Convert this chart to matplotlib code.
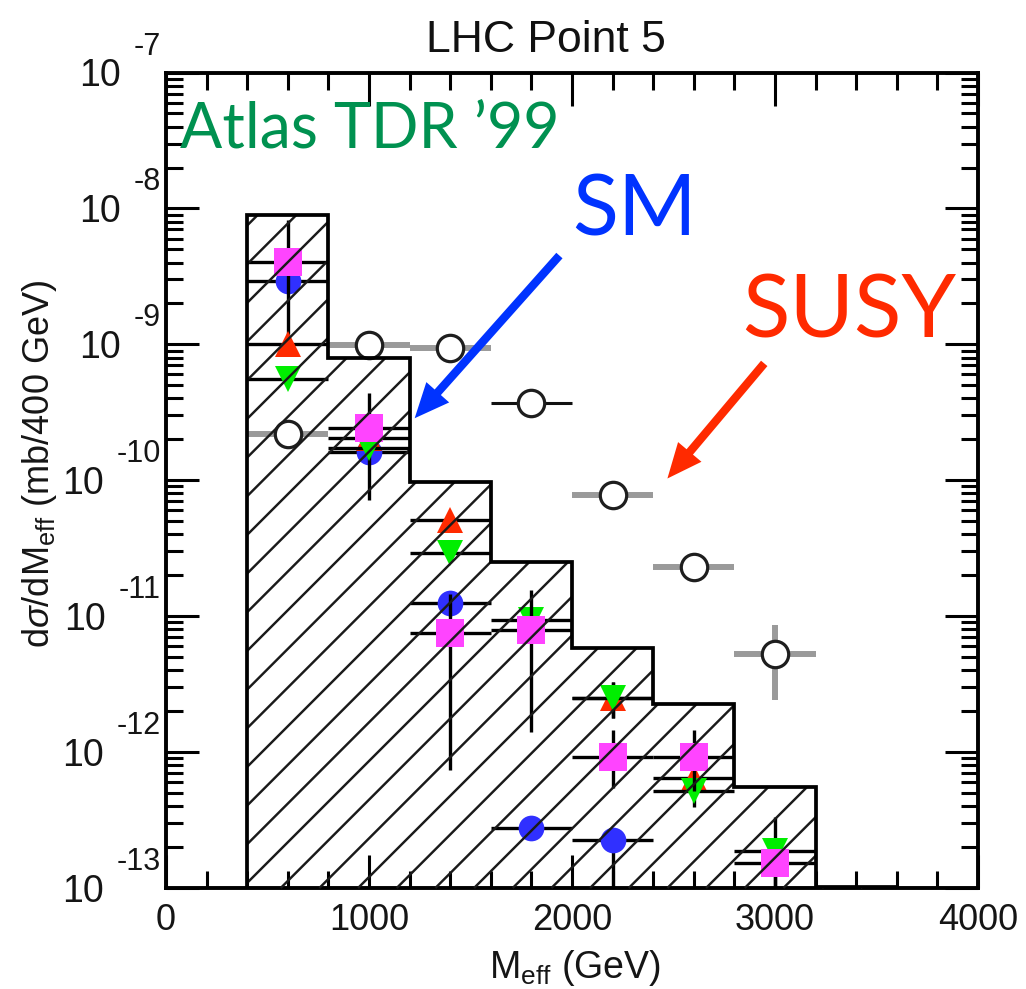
import numpy as np
import matplotlib
matplotlib.use('Agg')
import matplotlib.pyplot as plt
from matplotlib.collections import LineCollection
from matplotlib.patches import Polygon
from matplotlib.ticker import FixedLocator, LogLocator, NullFormatter, MultipleLocator

plt.rcParams['font.family'] = ['Liberation Sans', 'DejaVu Sans']
plt.rcParams['mathtext.fontset'] = 'custom'
plt.rcParams['mathtext.rm'] = 'Liberation Sans'
plt.rcParams['mathtext.it'] = 'Liberation Sans:italic'

# ---------------- data ----------------
bin_edges = [400, 800, 1200, 1600, 2000, 2400, 2800, 3200, 3600]
sm_hist = [8.9e-9, 7.9e-10, 9.7e-11, 2.5e-11, 5.8e-12, 2.25e-12, 5.5e-13, 1.02e-13]

x_pts = [600, 1000, 1400, 1800, 2200, 2600, 3000]
x_half = 200

# SUSY (open circles)
susy_y  = [2.18e-10, 9.84e-10, 9.42e-10, 3.68e-10, 7.76e-11, 2.31e-11, 5.3e-12]
susy_lo = [2.18e-10, 9.84e-10, 9.42e-10, 3.68e-10, 7.76e-11, 2.31e-11, 2.4e-12]
susy_hi = [2.18e-10, 9.84e-10, 9.42e-10, 3.68e-10, 7.76e-11, 2.31e-11, 8.6e-12]
susy_bar_colors = ['#9a9a9a', '#9a9a9a', '#9a9a9a', '#111111', '#9a9a9a', '#9a9a9a', '#9a9a9a']

nan = np.nan
# blue filled circles
blue_y  = [2.9e-9, 1.61e-10, 1.25e-11, 2.76e-13, 2.25e-13, nan, nan]
blue_lo = [2.6e-9, 1.4e-10, 1.0e-11, 2.5e-13, 5e-14, nan, nan]
blue_hi = [3.2e-9, 1.8e-10, 1.45e-11, 3.0e-13, 2.25e-13, nan, nan]
# red up-triangles
red_y  = [1.0e-9, 2.04e-10, 5.08e-11, nan, 2.49e-12, 6.44e-13, nan]
red_lo = [1.0e-9, 1.9e-10, 4.6e-11, nan, 1.78e-12, 6.0e-13, nan]
red_hi = [8.17e-9, 2.2e-10, 5.5e-11, nan, 3.27e-12, 7.0e-13, nan]
# green down-triangles
green_y  = [5.53e-10, 1.72e-10, 2.9e-11, 9.3e-12, 2.49e-12, 5.17e-13, 1.87e-13]
green_lo = [5.0e-10, 7.13e-11, 2.6e-11, 8.5e-12, 1.78e-12, 3.94e-13, 5e-14]
green_hi = [6.0e-10, 1.9e-10, 3.2e-11, 1.0e-11, 3.27e-12, 5.6e-13, 3.33e-13]
# magenta squares
mag_y  = [4.03e-9, 2.41e-10, 7.5e-12, 7.9e-12, 9.18e-13, 9.18e-13, 1.53e-13]
mag_lo = [3.5e-9, 2.0e-10, 7.4e-13, 1.4e-12, 5.43e-13, 5.2e-13, 5e-14]
mag_hi = [4.6e-9, 4.37e-10, 1.45e-11, 1.55e-11, 1.45e-12, 1.45e-12, 1.8e-13]

x_ticks = [0, 1000, 2000, 3000, 4000]
y_decades = [-13, -12, -11, -10, -9, -8, -7]

# ---------------- figure ----------------
FW, FH = 1026, 989
fig = plt.figure(figsize=(FW / 100, FH / 100), dpi=100)
L, R, T, B = 166, 978, 72.5, 888
ax = fig.add_axes([L / FW, 1 - B / FH, (R - L) / FW, (B - T) / FH])
ax.set_yscale('log')
ax.set_xlim(0, 4000)
ymin, ymax = 1e-13, 1e-7
ax.set_ylim(ymin, ymax)

for s in ax.spines.values():
    s.set_linewidth(2.8)

ax.xaxis.set_major_locator(FixedLocator(x_ticks))
ax.xaxis.set_minor_locator(MultipleLocator(200))
ax.set_xticklabels([str(v) for v in x_ticks])
ax.yaxis.set_major_locator(FixedLocator([10.0 ** d for d in y_decades]))
ax.yaxis.set_minor_locator(LogLocator(base=10, subs=np.arange(2, 10)))
ax.yaxis.set_major_formatter(NullFormatter())
ax.yaxis.set_minor_formatter(NullFormatter())
ax.tick_params(which='both', direction='in', top=True, right=True, width=2.2)
ax.tick_params(which='major', length=24)
ax.tick_params(which='minor', length=12.5)
ax.tick_params(axis='x', which='major', labelsize=26, pad=11, labelcolor='#151515')


def yerr(y, lo, hi):
    y = np.array(y, float)
    return y, np.vstack([y - np.array(lo, float), np.array(hi, float) - y])


# SUSY circles
for i in range(len(x_pts)):
    lw = 2.2 if susy_bar_colors[i] == '#111111' else 4.3
    ax.errorbar([x_pts[i]], [susy_y[i]], xerr=x_half,
                yerr=[[susy_y[i] - susy_lo[i]], [susy_hi[i] - susy_y[i]]],
                fmt='o', ms=19, mfc='white', mec='#1e1e1e', mew=2.3,
                ecolor=susy_bar_colors[i], elinewidth=lw, capsize=0, zorder=2)

series = [
    (blue_y, blue_lo, blue_hi, 'o', '#3030ff', 18.5, 3),
    (red_y, red_lo, red_hi, '^', '#ff2a00', 18.5, 4),
    (green_y, green_lo, green_hi, 'v', '#00ee00', 18.5, 5),
    (mag_y, mag_lo, mag_hi, 's', '#ff44ff', 20, 6),
]
for yv, lo, hi, mk, col, ms, z in series:
    y, e = yerr(yv, lo, hi)
    ax.errorbar(x_pts, y, xerr=x_half, yerr=e, fmt=mk, ms=ms, mfc=col, mec=col,
                mew=0, ecolor='black', elinewidth=2.4, capsize=0, zorder=z)

# hatched SM histogram
sx, sy = [bin_edges[0]], [ymin]
for i, h in enumerate(sm_hist):
    sx += [bin_edges[i], bin_edges[i + 1]]
    sy += [h, h]
poly = Polygon(list(zip(sx + [bin_edges[-1]], sy + [ymin * 0.5])) + [(bin_edges[0], ymin * 0.5)],
               closed=True, fill=False, edgecolor='none', transform=ax.transData)
ax.add_patch(poly)
AW, AH = R - L, B - T
cs = -504 + 38.67 * np.arange(-40, 60)
segs = [[(c / AW, 0.0), ((c + AH) / AW, 1.0)] for c in cs]
lc = LineCollection(segs, transform=ax.transAxes, colors='#1a1a1a', linewidths=1.75, zorder=7)
lc.set_clip_path(poly)
ax.add_collection(lc)
ax.plot(sx, sy, color='black', lw=2.7, zorder=8, solid_joinstyle='miter')

# y tick labels (10 with raised exponent)
ytr = ax.get_yaxis_transform()
exps = []
for d in y_decades:
    t = ax.annotate(str(d), xy=(0, 10.0 ** d), xycoords=ytr,
                    xytext=(-5, 18), textcoords='offset pixels', ha='right', va='baseline',
                    fontsize=22, color='#151515', annotation_clip=False)
    exps.append((d, t))
fig.canvas.draw()
r = fig.canvas.get_renderer()
for d, t in exps:
    w = t.get_window_extent(r).width
    ax.annotate('10', xy=(0, 10.0 ** d), xycoords=ytr,
                xytext=(-(5 + w + 13), -13.5), textcoords='offset pixels', ha='right', va='baseline',
                fontsize=27, color='#151515', annotation_clip=False)

# labels
fig.text(546 / FW, 1 - 52 / FH, 'LHC Point 5', ha='center', va='baseline', fontsize=32, color='#111111')
fig.text(575 / FW, 1 - 978 / FH, r'M$_{\mathrm{eff}}$ (GeV)', ha='center', va='baseline', fontsize=27,
         color='#151515')
fig.text(40 / FW, 1 - 464 / FH, r'd$\sigma$/dM$_{\mathrm{eff}}$ (mb/400 GeV)', rotation=90,
         ha='center', va='center', fontsize=26, color='#151515')

# annotations
fig.text(180 / FW, 1 - 148 / FH, 'Atlas TDR \u201999', fontsize=45, color='#009150',
         family=['Lato', 'DejaVu Sans'], ha='left', va='baseline')
fig.text(572 / FW, 1 - 235 / FH, 'SM', fontsize=61, color='#0033ff',
         family=['Lato', 'DejaVu Sans'], ha='left', va='baseline')
fig.text(742 / FW, 1 - 338 / FH, 'SUSY', fontsize=63, color='#ff2a00',
         family=['Lato', 'DejaVu Sans'], ha='left', va='baseline')

arrow_style = 'simple,head_length=1.25,head_width=1.1,tail_width=0.3'
ax.annotate('', xy=(1225, 2.86e-10), xytext=(1938, 4.5e-9),
            arrowprops=dict(arrowstyle=arrow_style, mutation_scale=20, color='#0033ff', lw=0,
                            shrinkA=0, shrinkB=0), zorder=10)
ax.annotate('', xy=(2470, 1.03e-10), xytext=(2947, 7.24e-10),
            arrowprops=dict(arrowstyle=arrow_style, mutation_scale=20, color='#ff2a00', lw=0,
                            shrinkA=0, shrinkB=0), zorder=10)

fig.savefig('out.png', dpi=100)
